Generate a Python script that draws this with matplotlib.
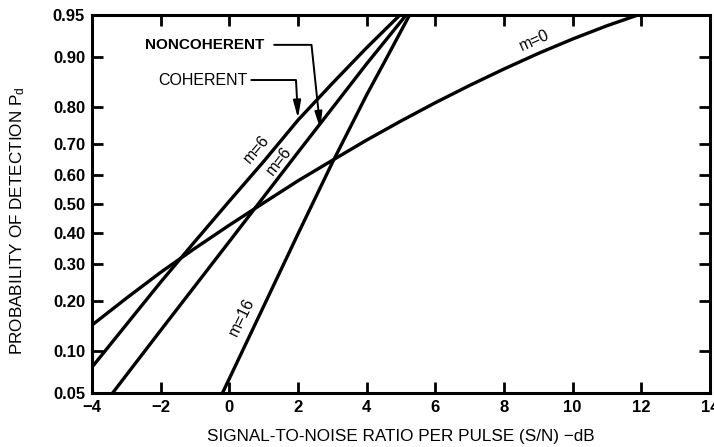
import numpy as np
import matplotlib
matplotlib.use("Agg")
import matplotlib.pyplot as plt
from statistics import NormalDist

plt.rcParams['font.family'] = ['Liberation Sans', 'DejaVu Sans']
plt.rcParams['mathtext.fontset'] = 'custom'
plt.rcParams['mathtext.rm'] = 'Liberation Sans'
plt.rcParams['mathtext.it'] = 'Liberation Sans'

# curves: S/N per pulse (dB) vs probability of detection
m0_x = [-4, -3, -2, -1, 0, 1, 2, 3, 4, 5, 6, 7, 8, 9, 10, 11, 11.9]
m0_p = [0.146, 0.206, 0.276, 0.350, 0.427, 0.504, 0.580, 0.648, 0.711,
        0.765, 0.811, 0.849, 0.880, 0.905, 0.9245, 0.9396, 0.95]

coh6_x = [-4, -3, -2, -1, 0, 1, 2, 3, 4, 4.97]
coh6_p = [0.0778, 0.1469, 0.2483, 0.3726, 0.510, 0.6443, 0.7673, 0.8531, 0.9131, 0.95]

noncoh6_x = [-3.4, -2, 0, 2, 4, 5.15]
noncoh6_p = [0.05, 0.1357, 0.372, 0.6736, 0.8888, 0.95]

m16_x = [-0.2, 0, 1, 2, 3, 4, 4.6, 5.25]
m16_p = [0.05, 0.0643, 0.1867, 0.3974, 0.6406, 0.8289, 0.900, 0.95]

x_ticks = [-4, -2, 0, 2, 4, 6, 8, 10, 12, 14]
y_ticks = [0.05, 0.10, 0.20, 0.30, 0.40, 0.50, 0.60, 0.70, 0.80, 0.90, 0.95]

nd = NormalDist()
_inv = np.vectorize(lambda p: nd.inv_cdf(min(max(p, 1e-9), 1 - 1e-9)), otypes=[float])
_cdf = np.vectorize(lambda z: nd.cdf(z), otypes=[float])


def forward(p):
    return _inv(np.asarray(p, dtype=float))


def inverse(z):
    return _cdf(np.asarray(z, dtype=float))


fig = plt.figure(figsize=(7.14, 4.47), dpi=100)
ax = fig.add_axes([92 / 714, 1 - 393 / 447, 618 / 714, 378 / 447])
ax.set_yscale('function', functions=(forward, inverse))

lw = 2.4
for xs, ps in [(m0_x, m0_p), (coh6_x, coh6_p), (noncoh6_x, noncoh6_p), (m16_x, m16_p)]:
    ax.plot(xs, ps, color='black', lw=lw, solid_capstyle='butt')

ax.set_xlim(-4, 14)
ax.set_ylim(0.05, 0.95)
ax.set_xticks(x_ticks)
ax.set_xticklabels([str(v).replace('-', '\u2212') for v in x_ticks])
ax.set_yticks(y_ticks)
ax.set_yticklabels(['%.2f' % v for v in y_ticks])
ax.yaxis.set_minor_locator(matplotlib.ticker.NullLocator())
ax.xaxis.set_minor_locator(matplotlib.ticker.NullLocator())

ax.tick_params(direction='in', length=8, width=2, top=True, right=True,
               labelsize=12, pad=5)
for lab in ax.get_xticklabels() + ax.get_yticklabels():
    lab.set_fontweight('bold')
for sp in ax.spines.values():
    sp.set_linewidth(2.2)

ax.set_xlabel('SIGNAL-TO-NOISE RATIO PER PULSE (S/N) \u2212dB', fontsize=12.3)
ax.set_ylabel('PROBABILITY OF DETECTION P$_d$', fontsize=12.3)
ax.xaxis.set_label_coords(0.5, -0.095)
ax.yaxis.set_label_coords(-0.105, 0.455)

# curve labels
lab_kw = dict(fontsize=11.5, ha='center', va='center')
ax.text(0.78, 0.685, 'm=6', rotation=50, **lab_kw)
ax.text(1.45, 0.645, 'm=6', rotation=52, **lab_kw)
ax.text(0.37, 0.162, 'm=16', rotation=64, **lab_kw)
ax.text(8.9, 0.923, 'm=0', rotation=24, **lab_kw)

# leaders to the two m=6 curves
nc_x = 2.65
nc_y = np.interp(nc_x, noncoh6_x, noncoh6_p)
ax.annotate('NONCOHERENT', xy=(nc_x, nc_y), xycoords='data',
            xytext=(0.279, 0.921), textcoords='axes fraction',
            ha='right', va='center', fontsize=11, fontweight='bold',
            arrowprops=dict(arrowstyle='-|>,head_length=0.9,head_width=0.2',
                            color='black', lw=1.4, relpos=(1, 0.5),
                            shrinkA=5, shrinkB=0,
                            connectionstyle='angle,angleA=0,angleB=96,rad=0'))
c_x = 2.0
c_y = np.interp(c_x, coh6_x, coh6_p) + 0.005
ax.annotate('COHERENT', xy=(c_x, c_y), xycoords='data',
            xytext=(0.251, 0.828), textcoords='axes fraction',
            ha='right', va='center', fontsize=11.5,
            arrowprops=dict(arrowstyle='-|>,head_length=0.9,head_width=0.2',
                            color='black', lw=1.4, relpos=(1, 0.5),
                            shrinkA=1, shrinkB=0,
                            connectionstyle='angle,angleA=0,angleB=93,rad=0'))

fig.savefig('out.png', dpi=100)
